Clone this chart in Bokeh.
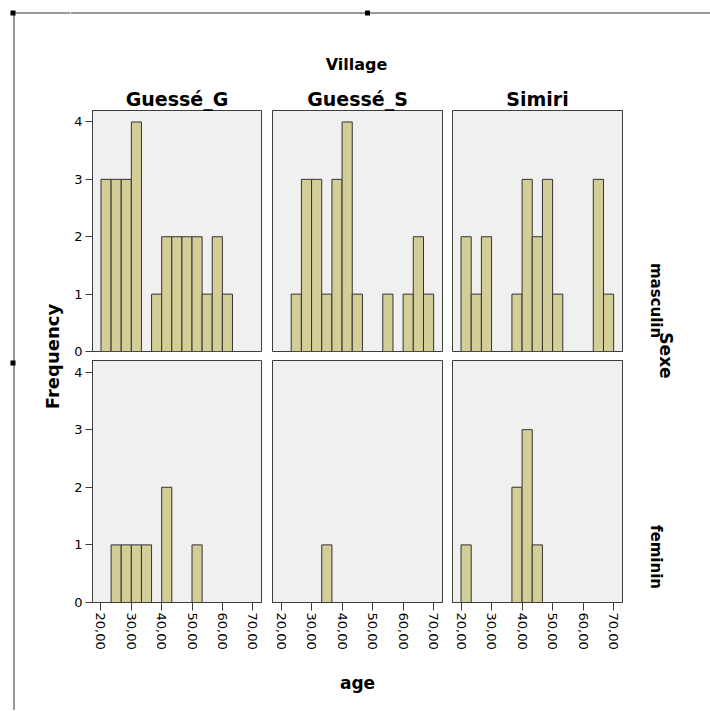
import math
from bokeh.plotting import figure
from bokeh.layouts import row, column
from bokeh.models import ColumnDataSource, Range1d, FixedTicker, LinearAxis
from bokeh.core.properties import value
from bokeh.embed import file_html
from bokeh.resources import INLINE

# ---------------- data ----------------
villages = ["Guessé_G", "Guessé_S", "Simiri"]
sexes = ["masculin", "feminin"]
bin_left = [20.0, 23.33, 26.67, 30.0, 33.33, 36.67, 40.0, 43.33, 46.67, 50.0,
            53.33, 56.67, 60.0, 63.33, 66.67]
bin_right = [23.33, 26.67, 30.0, 33.33, 36.67, 40.0, 43.33, 46.67, 50.0, 53.33,
             56.67, 60.0, 63.33, 66.67, 70.0]
masc_guesse_g = [3, 3, 3, 4, 0, 1, 2, 2, 2, 2, 1, 2, 1, 0, 0]
masc_guesse_s = [0, 1, 3, 3, 1, 3, 4, 1, 0, 0, 1, 0, 1, 2, 1]
masc_simiri = [2, 1, 2, 0, 0, 1, 3, 2, 3, 1, 0, 0, 0, 3, 1]
fem_guesse_g = [0, 1, 1, 1, 1, 0, 2, 0, 0, 1, 0, 0, 0, 0, 0]
fem_guesse_s = [0, 0, 0, 0, 1, 0, 0, 0, 0, 0, 0, 0, 0, 0, 0]
fem_simiri = [1, 0, 0, 0, 0, 2, 3, 1, 0, 0, 0, 0, 0, 0, 0]
x_ticks = [20, 30, 40, 50, 60, 70]
x_tick_labels = ["20,00", "30,00", "40,00", "50,00", "60,00", "70,00"]
y_ticks = [0, 1, 2, 3, 4]
y_tick_labels = ["0", "1", "2", "3", "4"]
x_title = "age"
y_title = "Frequency"
col_title = "Village"
row_title = "Sexe"

FONT = "DejaVu Sans"
BAR_FILL = "#d3ce97"
BAR_LINE = "#333333"
FRAME_BG = "#f0f0f0"
FRAME_LINE = "#3c3c3c"


def panel(counts, width, height, bl, br, bt, bb, yaxis=False, xaxis=False, title=None):
    p = figure(width=width, height=height, output_backend="svg", toolbar_location=None,
               x_range=Range1d(17.2, 72.9), y_range=Range1d(0, 4.2),
               x_axis_type=None, y_axis_type=None,
               min_border_left=bl, min_border_right=br,
               min_border_top=bt, min_border_bottom=bb)
    p.background_fill_color = FRAME_BG
    p.border_fill_color = "white"
    p.outline_line_color = FRAME_LINE
    p.outline_line_width = 1
    if title is not None:
        p.title.text = title
        p.title.align = "center"
        p.title.text_font = FONT
        p.title.text_font_size = "19px"
        p.title.text_font_style = "bold"
        p.title.text_color = "black"
        p.title.standoff = 1
        p.title.offset = 0
    idx = [i for i, c in enumerate(counts) if c > 0]
    src = ColumnDataSource(dict(left=[bin_left[i] for i in idx],
                                right=[bin_right[i] for i in idx],
                                top=[counts[i] for i in idx]))
    p.quad(left="left", right="right", top="top", bottom=0, source=src,
           fill_color=BAR_FILL, line_color=BAR_LINE, line_width=1)
    if yaxis:
        ax = LinearAxis(ticker=FixedTicker(ticks=y_ticks, minor_ticks=[]),
                        major_label_overrides=dict(zip(y_ticks, y_tick_labels)))
        ax.axis_line_color = FRAME_LINE
        ax.major_tick_line_color = FRAME_LINE
        ax.major_tick_out = 7
        ax.major_tick_in = 0
        ax.minor_tick_out = 0
        ax.major_label_standoff = 3
        ax.major_label_text_font = FONT
        ax.major_label_text_font_size = "13px"
        ax.major_label_text_color = "black"
        p.add_layout(ax, "left")
    if xaxis:
        ax = LinearAxis(ticker=FixedTicker(ticks=x_ticks, minor_ticks=[]),
                        major_label_overrides=dict(zip(x_ticks, x_tick_labels)))
        ax.axis_line_color = FRAME_LINE
        ax.major_tick_line_color = FRAME_LINE
        ax.major_tick_out = 8
        ax.major_tick_in = 0
        ax.minor_tick_out = 0
        ax.major_label_standoff = 2
        ax.major_label_orientation = -math.pi / 2
        ax.major_label_text_font = FONT
        ax.major_label_text_font_size = "13px"
        ax.major_label_text_color = "black"
        p.add_layout(ax, "below")
    return p


def deco(w, h):
    p = figure(width=w, height=h, output_backend="svg", toolbar_location=None,
               x_range=Range1d(0, w), y_range=Range1d(h, 0),
               x_axis_type=None, y_axis_type=None, min_border=0)
    p.outline_line_color = None
    p.background_fill_color = "white"
    p.border_fill_color = "white"
    return p


def label(p, x, y, txt, size, angle=0.0, baseline="middle", bold=True):
    p.text(x=[x], y=[y], text=[txt], text_font=value(FONT), text_font_size=size,
           text_font_style="bold" if bold else "normal", text_align="center",
           text_baseline=baseline, angle=angle, text_color="black")


# ---------------- panels ----------------
top_h, bot_h = 279, 301
gT = panel(masc_guesse_g, 196, top_h, 22, 5, 30, 8, yaxis=True, title=villages[0])
sT = panel(masc_guesse_s, 181, top_h, 6, 5, 30, 8, title=villages[1])
mT = panel(masc_simiri, 180, top_h, 5, 5, 30, 8, title=villages[2])
gB = panel(fem_guesse_g, 196, bot_h, 22, 5, 1, 58, yaxis=True, xaxis=True)
sB = panel(fem_guesse_s, 181, bot_h, 6, 5, 1, 58, xaxis=True)
mB = panel(fem_simiri, 180, bot_h, 5, 5, 1, 58, xaxis=True)

# ---------------- decorations ----------------
LINE = "#333333"
# left strip: image x 0..70
left = deco(70, 710)
left.line(x=[10, 70], y=[12.5, 12.5], line_color=LINE, line_width=1)
left.line(x=[13.5, 13.5], y=[12, 710], line_color=LINE, line_width=1)
left.rect(x=[12.5, 12.5], y=[12.5, 362.5], width=5, height=5, fill_color="black", line_color=None)
label(left, 52, 356, y_title, "18px", angle=math.pi / 2)

# header: image x 70..710, y 0..80
header = deco(640, 80)
header.line(x=[0, 640], y=[12.5, 12.5], line_color=LINE, line_width=1)
header.rect(x=[297], y=[12.5], width=5, height=5, fill_color="black", line_color=None)
label(header, 286, 64, col_title, "16px", baseline="middle")

# right strip: image x 627..710, y 80..660
right = deco(83, top_h + bot_h)
label(right, 28.5, 220, sexes[0], "15px", angle=-math.pi / 2)
label(right, 38, 275, row_title, "17px", angle=-math.pi / 2)
label(right, 28.5, 476.5, sexes[1], "15px", angle=-math.pi / 2)

# footer: image x 70..710, y 660..710
footer = deco(640, 50)
label(footer, 287, 22, x_title, "17px", baseline="middle")

grid = row(column(gT, gB), column(sT, sB), column(mT, mB), right)
layout = row(left, column(header, grid, footer))

open("out.html", "w").write(file_html(layout, INLINE))
